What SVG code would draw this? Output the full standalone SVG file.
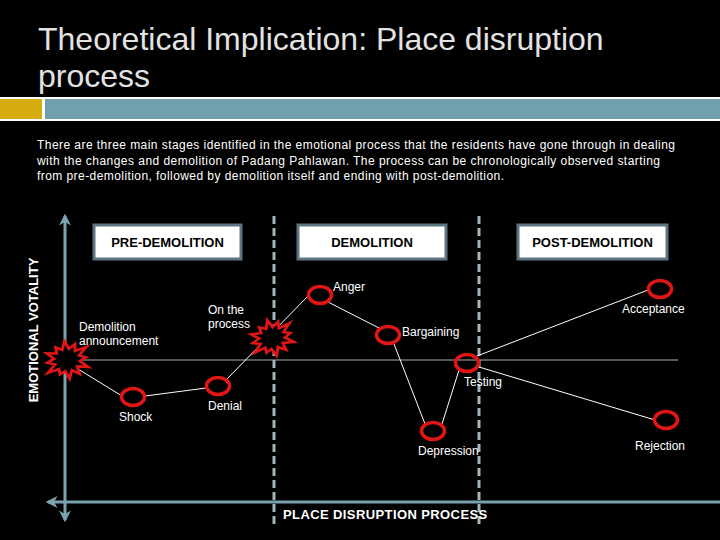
<svg xmlns="http://www.w3.org/2000/svg" width="720" height="540" viewBox="0 0 720 540">
<style>
.title{font-family:"Liberation Sans",Arial,sans-serif;font-size:32px;fill:#e2e2e2}
.para{font-family:"Liberation Sans",Arial,sans-serif;font-size:12px;fill:#ffffff}
.lbl{font-family:"Liberation Sans",Arial,sans-serif;font-size:12px;fill:#ffffff}
.box{fill:#ffffff;stroke:#5d7580;stroke-width:3}
.boxt{font-family:"Liberation Sans",Arial,sans-serif;font-size:13px;font-weight:bold;fill:#000000;text-anchor:middle}
.ring{fill:none;stroke:#e01515;stroke-width:3.5}
.star{fill:#000000;stroke:#e01515;stroke-width:3;stroke-linejoin:miter}
.conn{stroke:#ffffff;stroke-width:1;fill:none}
.axis{stroke:#7aa3b0;stroke-width:3;fill:none}
.dash{stroke:#9fb6bf;stroke-width:3;stroke-dasharray:8 4;fill:none}
.bold{font-family:"Liberation Sans",Arial,sans-serif;font-size:13px;font-weight:bold;fill:#ffffff}
</style>
<defs>
<marker id="ah" viewBox="0 0 10 10" refX="8" refY="5" markerWidth="4" markerHeight="4" orient="auto-start-reverse">
<path d="M0,0 L10,5 L0,10 L3,5 Z" fill="#7aa3b0"/>
</marker>
<polygon id="burst" points="0,-22 3.4,-12.6 10,-17.3 9.2,-9.2 20.8,-12 12.6,-3.4 19,0 12.6,3.4 19.9,11.5 9.2,9.2 10.5,18.2 3.4,12.6 0,22 -3.4,12.6 -9,15.6 -9.2,9.2 -20.8,12 -12.6,3.4 -20,0 -12.6,-3.4 -19.1,-11 -9.2,-9.2 -9.5,-16.5 -3.4,-12.6"/>
</defs>
<rect x="0" y="0" width="720" height="540" fill="#000000"/>
<g id="title">
<text class="title" x="38" y="50">Theoretical Implication: Place disruption</text>
<text class="title" x="38" y="87">process</text>
</g>
<g id="band">
<rect x="0" y="97" width="720" height="24" fill="#ffffff"/>
<rect x="0" y="99" width="42" height="20" fill="#d4ac0d"/>
<rect x="45" y="99" width="675" height="20" fill="#709fae"/>
</g>
<g id="paragraph">
<text class="para" x="37" y="149" textLength="638" lengthAdjust="spacing">There are three main stages identified in the emotional process that the residents have gone through in dealing</text>
<text class="para" x="37" y="165" textLength="623" lengthAdjust="spacing">with the changes and demolition of Padang Pahlawan. The process can be chronologically observed starting</text>
<text class="para" x="37" y="180" textLength="467" lengthAdjust="spacing">from pre-demolition, followed by demolition itself and ending with post-demolition.</text>
</g>
<g id="axes">
<line class="dash" x1="274" y1="216" x2="274" y2="526"/>
<line class="dash" x1="479" y1="216" x2="479" y2="526"/>
<line x1="50" y1="360" x2="678" y2="360" stroke="#a8b4b8" stroke-width="1"/>
<line class="axis" x1="65" y1="520" x2="65" y2="216" marker-start="url(#ah)" marker-end="url(#ah)"/>
<line class="axis" x1="720" y1="502" x2="48" y2="502" marker-end="url(#ah)"/>
<text class="bold" x="0" y="0" transform="translate(38,330) rotate(-90)" text-anchor="middle" font-size="12">EMOTIONAL VOTALITY</text>
<text class="bold" x="283" y="519" letter-spacing="0.4">PLACE DISRUPTION PROCESS</text>
</g>
<g id="stage-pre">
<rect class="box" x="94" y="225" width="147" height="34"/>
<text class="boxt" x="167.5" y="247">PRE-DEMOLITION</text>
</g>
<g id="stage-demolition">
<rect class="box" x="298" y="225" width="148" height="34"/>
<text class="boxt" x="372" y="247">DEMOLITION</text>
</g>
<g id="stage-post">
<rect class="box" x="518" y="225" width="149" height="34"/>
<text class="boxt" x="592.5" y="247">POST-DEMOLITION</text>
</g>
<g id="connectors">
<line class="conn" x1="65" y1="361" x2="122" y2="396"/>
<line class="conn" x1="145" y1="396" x2="206" y2="388"/>
<line class="conn" x1="227" y1="379" x2="309" y2="295"/>
<line class="conn" x1="328" y1="302" x2="379" y2="328"/>
<line class="conn" x1="394" y1="344" x2="425" y2="424"/>
<line class="conn" x1="442" y1="424" x2="459" y2="370"/>
<line class="conn" x1="477" y1="356" x2="648" y2="290"/>
<line class="conn" x1="479" y1="367" x2="655" y2="420"/>
</g>
<g id="node-announcement">
<use href="#burst" class="star" transform="translate(67,360) rotate(-8) scale(1,0.85)"/>
<text class="lbl" x="79" y="331">Demolition</text>
<text class="lbl" x="79" y="345">announcement</text>
</g>
<g id="node-shock">
<ellipse class="ring" cx="133" cy="397" rx="11.5" ry="8.5"/>
<text class="lbl" x="119" y="421">Shock</text>
</g>
<g id="node-denial">
<ellipse class="ring" cx="218" cy="386" rx="11.5" ry="8.5"/>
<text class="lbl" x="208" y="410">Denial</text>
</g>
<g id="node-process">
<use href="#burst" class="star" transform="translate(272,338) rotate(-15) scale(1,0.82)"/>
<text class="lbl" x="208" y="314">On the</text>
<text class="lbl" x="208" y="328">process</text>
</g>
<g id="node-anger">
<ellipse class="ring" cx="320" cy="295" rx="11.5" ry="8.5"/>
<text class="lbl" x="333" y="291">Anger</text>
</g>
<g id="node-bargaining">
<ellipse class="ring" cx="388" cy="335" rx="11.5" ry="8.5"/>
<text class="lbl" x="402" y="336">Bargaining</text>
</g>
<g id="node-depression">
<ellipse class="ring" cx="433" cy="431" rx="11.5" ry="8.5"/>
<text class="lbl" x="418" y="455">Depression</text>
</g>
<g id="node-testing">
<ellipse class="ring" cx="467" cy="363" rx="11.5" ry="8.5"/>
<text class="lbl" x="464" y="386">Testing</text>
</g>
<g id="node-acceptance">
<ellipse class="ring" cx="660" cy="289" rx="11.5" ry="8.5"/>
<text class="lbl" x="622" y="313">Acceptance</text>
</g>
<g id="node-rejection">
<ellipse class="ring" cx="666" cy="420" rx="11.5" ry="8.5"/>
<text class="lbl" x="635" y="450">Rejection</text>
</g>
</svg>
